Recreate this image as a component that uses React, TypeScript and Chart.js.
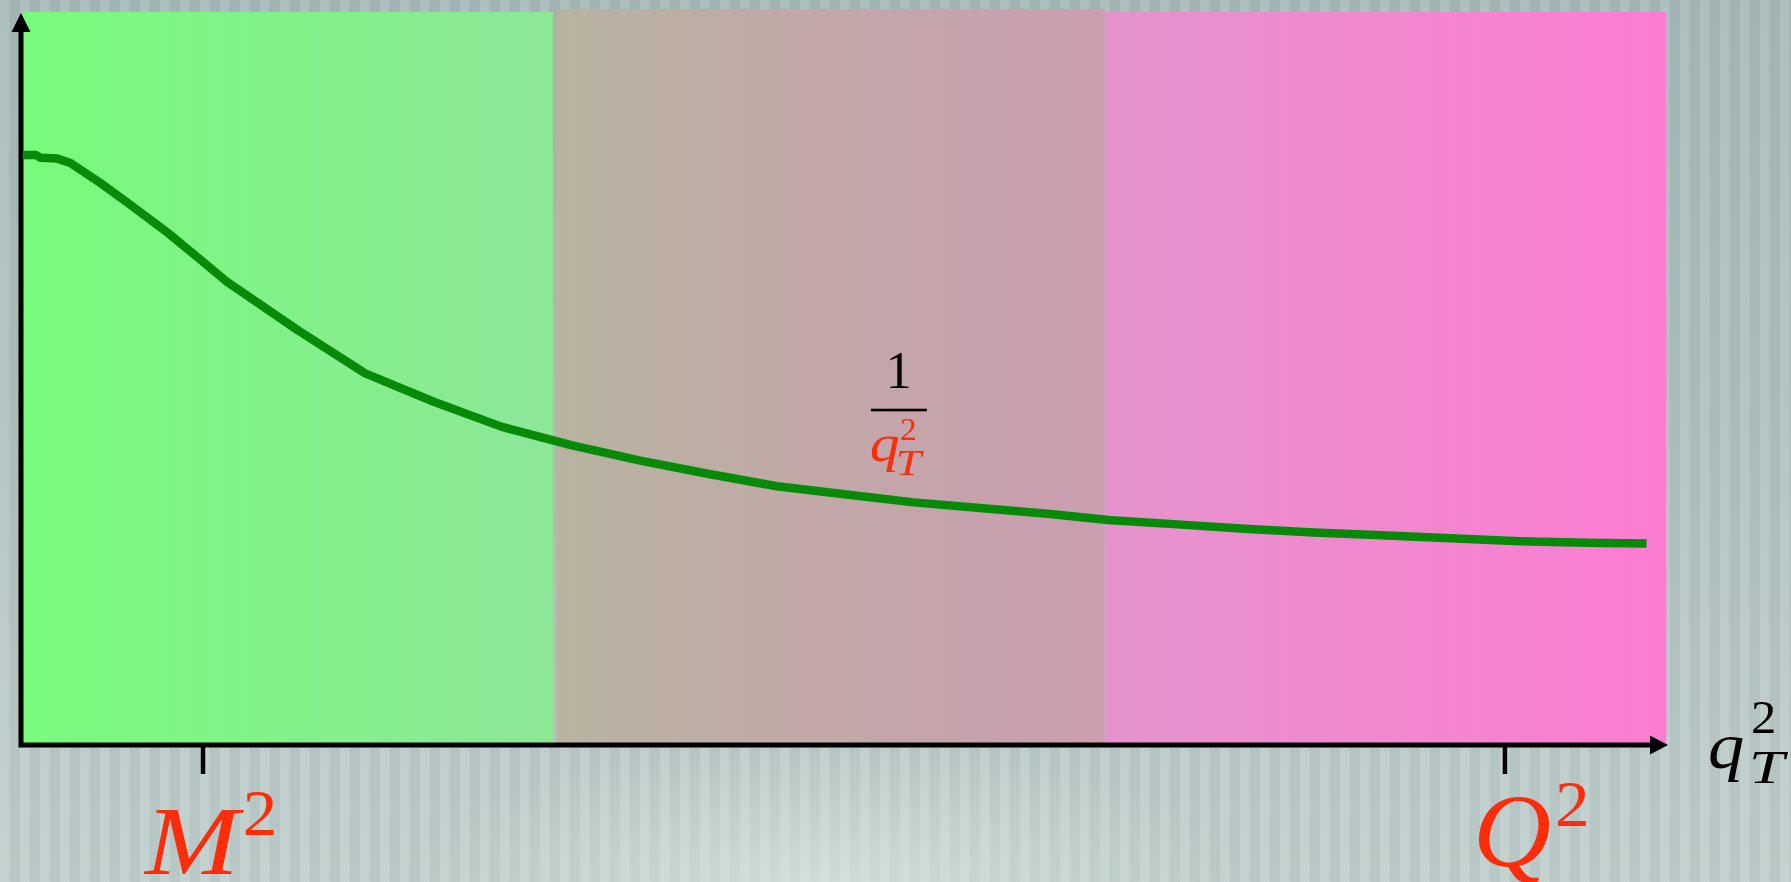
import { useEffect, useRef } from 'react';
import { Chart, registerables } from 'chart.js';

Chart.register(...registerables);

// Curve of the 1/q_T^2 behaviour (arbitrary units, 0..10 on both axes)
const curveX = [0.01, 0.09, 0.12, 0.22, 0.30, 0.48, 0.64, 0.89, 1.09, 1.25, 1.68, 2.09, 2.51, 2.92, 3.34, 3.76, 4.17, 4.59, 5.00, 5.42, 5.84, 6.25, 6.60, 7.02, 7.43, 7.85, 8.26, 8.68, 9.10, 9.51, 9.87];
const curveY = [8.05, 8.05, 8.01, 8.00, 7.94, 7.67, 7.41, 6.99, 6.62, 6.32, 5.66, 5.07, 4.68, 4.34, 4.09, 3.88, 3.70, 3.53, 3.42, 3.31, 3.23, 3.15, 3.07, 3.01, 2.95, 2.90, 2.86, 2.82, 2.78, 2.76, 2.75];

// Shaded regions along q_T^2
const regionStarts = [0.01, 3.25, 6.58];
const regionEnds = [3.23, 6.58, 9.99];
const regionTops = [10, 10.04, 10];
const regionLeftColors = ['#78fb7b', '#b8b3a0', '#e593cc'];
const regionRightColors = ['#8de798', '#cb9db0', '#fd7cd3'];

// Marked scales on the horizontal axis
const tickValues = [1.105, 9.01];
const tickLetters = ['M', 'Q'];

const AXIS_MIN = 0;
const AXIS_MAX = 10;

const RED = '#fb2d0b';
const SERIF = '"Liberation Serif", "DejaVu Serif", serif';

// draws text with an optional horizontal stretch, returns the drawn width
function stretchText(ctx: CanvasRenderingContext2D, text: string, x: number, y: number, font: string, color: string, sx = 1) {
  ctx.save();
  ctx.font = font;
  ctx.fillStyle = color;
  ctx.textAlign = 'left';
  ctx.textBaseline = 'alphabetic';
  ctx.translate(x, y);
  ctx.scale(sx, 1);
  ctx.fillText(text, 0, 0);
  const w = ctx.measureText(text).width * sx;
  ctx.restore();
  return w;
}

const framePlugin = {
  id: 'frame',
  beforeDatasetsDraw(chart: any) {
    const { ctx } = chart;
    const xs = chart.scales.x;
    const ys = chart.scales.y;
    const yBottom = ys.getPixelForValue(0);

    // coloured bands
    for (let i = 0; i < regionStarts.length; i++) {
      const x0 = xs.getPixelForValue(regionStarts[i]);
      const x1 = xs.getPixelForValue(regionEnds[i]);
      const yTop = ys.getPixelForValue(regionTops[i]);
      const g = ctx.createLinearGradient(x0, 0, x1, 0);
      g.addColorStop(0, regionLeftColors[i]);
      g.addColorStop(1, regionRightColors[i]);
      ctx.save();
      ctx.fillStyle = g;
      ctx.fillRect(x0, yTop, x1 - x0, yBottom - yTop);
      ctx.restore();
    }

    // axes with arrow heads
    const xAxisY = yBottom;
    const yAxisX = xs.getPixelForValue(AXIS_MIN);
    const xTip = xs.getPixelForValue(AXIS_MAX);
    const yTip = ys.getPixelForValue(AXIS_MAX) + 1;
    ctx.save();
    ctx.strokeStyle = '#000';
    ctx.fillStyle = '#000';
    ctx.lineWidth = 5;
    ctx.lineCap = 'butt';
    ctx.beginPath();
    ctx.moveTo(yAxisX, xAxisY + 2.5);
    ctx.lineTo(yAxisX, yTip + 14);
    ctx.moveTo(yAxisX - 2.5, xAxisY);
    ctx.lineTo(xTip - 14, xAxisY);
    ctx.stroke();

    ctx.beginPath();
    ctx.moveTo(yAxisX, yTip);
    ctx.lineTo(yAxisX - 9.5, yTip + 19);
    ctx.lineTo(yAxisX + 9.5, yTip + 19);
    ctx.closePath();
    ctx.fill();

    ctx.beginPath();
    ctx.moveTo(xTip, xAxisY);
    ctx.lineTo(xTip - 18, xAxisY - 9.5);
    ctx.lineTo(xTip - 18, xAxisY + 9.5);
    ctx.closePath();
    ctx.fill();

    // tick marks
    ctx.lineWidth = 4.5;
    for (const v of tickValues) {
      const px = xs.getPixelForValue(v);
      ctx.beginPath();
      ctx.moveTo(px, xAxisY);
      ctx.lineTo(px, xAxisY + 29);
      ctx.stroke();
    }
    ctx.restore();
  },
  afterDatasetsDraw(chart: any) {
    const { ctx } = chart;
    const xs = chart.scales.x;
    const ys = chart.scales.y;
    const xAxisY = ys.getPixelForValue(0);
    const xTip = xs.getPixelForValue(AXIS_MAX);

    // tick labels M^2, Q^2
    const letterOffsets = [-58, -32];
    const letterBaselines = [129, 121];
    const letterSizes = [98, 103];
    const letterStretch = [1.15, 1.05];
    const supDrops = [39, 40];
    tickValues.forEach((v, i) => {
      const px = xs.getPixelForValue(v);
      const lx = px + letterOffsets[i];
      const by = xAxisY + letterBaselines[i];
      const w = stretchText(ctx, tickLetters[i], lx, by, `italic ${letterSizes[i]}px ${SERIF}`, RED, letterStretch[i]);
      stretchText(ctx, '2', lx + w + 4, by - supDrops[i], `66px ${SERIF}`, RED, 1.05);
    });

    // axis title q_T^2
    const qx = xTip + 40;
    stretchText(ctx, 'q', qx, xAxisY + 23, `italic 66px ${SERIF}`, '#000', 1.1);
    stretchText(ctx, '2', qx + 43, xAxisY - 12, `46px ${SERIF}`, '#000', 1.1);
    stretchText(ctx, 'T', qx + 41, xAxisY + 38, `italic 47px ${SERIF}`, '#000', 1.35);

    // fraction 1 / q_T^2 above the curve
    const fx = xs.getPixelForValue(5.33);
    const fy = ys.getPixelForValue(4.57);
    ctx.save();
    ctx.font = `52px ${SERIF}`;
    ctx.textAlign = 'center';
    ctx.textBaseline = 'alphabetic';
    ctx.fillStyle = '#000';
    ctx.fillText('1', fx, fy - 22);
    ctx.fillRect(fx - 28, fy - 1.3, 56, 2.6);
    ctx.restore();
    stretchText(ctx, 'q', fx - 29, fy + 51, `italic 52px ${SERIF}`, RED, 1.15);
    stretchText(ctx, '2', fx + 1, fy + 30, `31px ${SERIF}`, RED, 1.1);
    stretchText(ctx, 'T', fx - 3, fy + 65, `italic 35px ${SERIF}`, RED, 1.3);
  },
};

export default function App() {
  const canvasRef = useRef<HTMLCanvasElement | null>(null);

  useEffect(() => {
    document.body.style.margin = '0';
    const canvas = canvasRef.current;
    if (!canvas) return;
    const chart = new Chart(canvas, {
      type: 'line',
      data: {
        datasets: [
          {
            data: curveX.map((x, i) => ({ x, y: curveY[i] })),
            borderColor: '#078a08',
            borderWidth: 8.5,
            pointRadius: 0,
            tension: 0,
            borderJoinStyle: 'round',
            fill: false,
          },
        ],
      },
      options: {
        responsive: false,
        animation: false,
        layout: { padding: { left: 21, right: 123, top: 12, bottom: 137 } },
        scales: {
          x: { type: 'linear', min: AXIS_MIN, max: AXIS_MAX, display: false },
          y: { type: 'linear', min: AXIS_MIN, max: AXIS_MAX, display: false },
        },
        plugins: { legend: { display: false }, tooltip: { enabled: false } },
      },
      plugins: [framePlugin],
    });
    return () => chart.destroy();
  }, []);

  return (
    <div
      style={{
        position: 'fixed',
        left: 0,
        top: 0,
        width: 1791,
        height: 882,
        overflow: 'hidden',
        background:
          'radial-gradient(ellipse 420px 140px at 46% 100%, rgba(225,235,228,0.55), rgba(225,235,228,0) 100%),' +
          'repeating-linear-gradient(90deg, rgba(255,255,255,0.07) 0px, rgba(255,255,255,0.07) 9px, rgba(0,0,0,0.035) 10px, rgba(0,0,0,0.035) 20px),' +
          'linear-gradient(180deg, #a7baba 0%, #afc1c0 45%, #c0cfcd 100%)',
      }}
    >
      <canvas ref={canvasRef} width={1791} height={882} style={{ width: 1791, height: 882, display: 'block' }} />
    </div>
  );
}
